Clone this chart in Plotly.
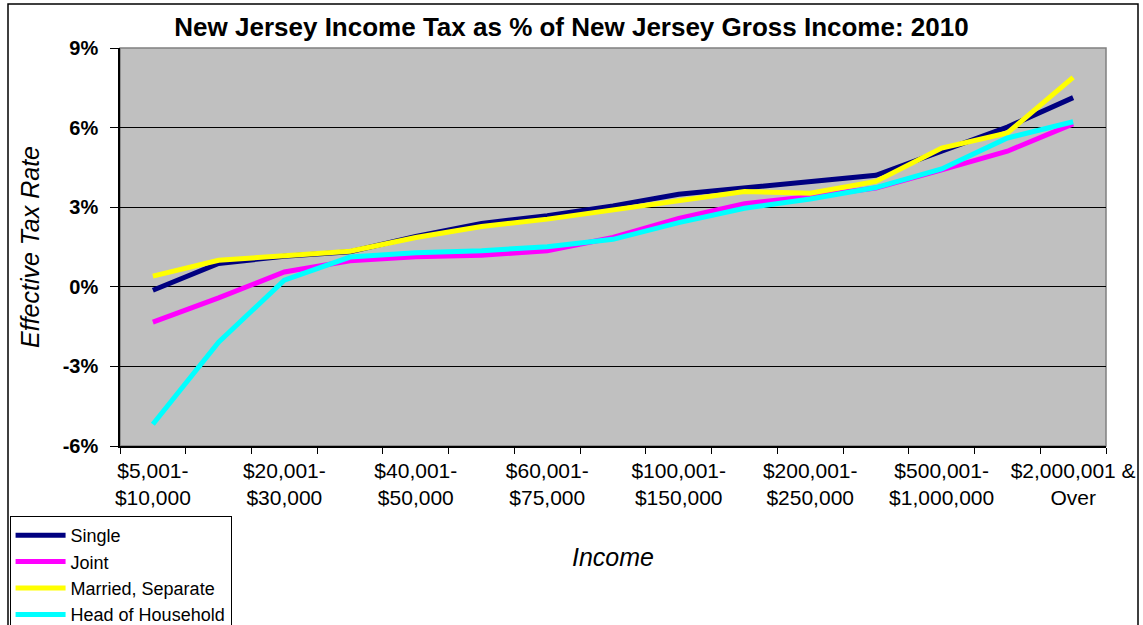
import plotly.graph_objects as go

categories = ["$5,001-$10,000", "$10,001-$20,000", "$20,001-$30,000", "$30,001-$40,000",
              "$40,001-$50,000", "$50,001-$60,000", "$60,001-$75,000", "$75,001-$100,000",
              "$100,001-$150,000", "$150,001-$200,000", "$200,001-$250,000", "$250,001-$500,000",
              "$500,001-$1,000,000", "$1,000,001-$2,000,000", "$2,000,001 & Over"]
tick_labels = ["$5,001-<br>$10,000", "", "$20,001-<br>$30,000", "",
               "$40,001-<br>$50,000", "", "$60,001-<br>$75,000", "",
               "$100,001-<br>$150,000", "", "$200,001-<br>$250,000", "",
               "$500,001-<br>$1,000,000", "", "$2,000,001 &<br>Over"]

single = [-0.13, 0.88, 1.15, 1.32, 1.90, 2.39, 2.68, 3.05, 3.49, 3.72, 3.93, 4.20, 5.11, 6.02, 7.13]
joint = [-1.33, -0.42, 0.56, 0.98, 1.13, 1.19, 1.36, 1.86, 2.58, 3.13, 3.40, 3.72, 4.41, 5.11, 6.14]
married_sep = [0.40, 1.00, 1.17, 1.34, 1.86, 2.27, 2.55, 2.90, 3.28, 3.59, 3.53, 3.97, 5.23, 5.80, 7.89]
head_household = [-5.18, -2.09, 0.25, 1.12, 1.28, 1.36, 1.51, 1.79, 2.42, 2.96, 3.31, 3.74, 4.44, 5.61, 6.22]

series = [("Single", single, "#000080"),
          ("Joint", joint, "#FF00FF"),
          ("Married, Separate", married_sep, "#FFFF00"),
          ("Head of Household", head_household, "#00FFFF")]

FONT = "Liberation Sans, Arial, sans-serif"

fig = go.Figure()
for name, vals, color in series:
    fig.add_trace(go.Scatter(x=categories, y=vals, name=name, mode="lines",
                             line=dict(color=color, width=5)))

fig.update_layout(
    width=1143, height=625,
    margin=dict(l=120, r=37, t=48, b=179, autoexpand=False),
    paper_bgcolor="white",
    plot_bgcolor="#C0C0C0",
    font=dict(family=FONT, color="black"),
    title=dict(text="<b>New Jersey Income Tax as % of New Jersey Gross Income: 2010</b>",
               x=0.5, xanchor="center", y=1 - 27 / 625, yanchor="middle",
               font=dict(size=26, family=FONT)),
    showlegend=True,
    legend=dict(x=-0.112, xanchor="left", y=(446 - 516) / 398, yanchor="top",
                bgcolor="white", bordercolor="black", borderwidth=1,
                itemwidth=50,
                font=dict(size=18, family=FONT), tracegroupgap=0),
    xaxis=dict(type="category", categoryorder="array", categoryarray=categories,
               range=[-0.5, len(categories) - 0.5], automargin=False,
               tickmode="array", tickvals=categories, ticktext=tick_labels,
               tickson="boundaries", ticks="outside", ticklen=6, tickcolor="black",
               showline=True, linecolor="black", linewidth=1.5,
               showgrid=False, zeroline=False,
               tickfont=dict(size=21, family=FONT), tickangle=0,
               ticklabelstandoff=5,
               title=dict(text="<i>Income</i>", font=dict(size=25, family=FONT), standoff=40)),
    yaxis=dict(range=[-6, 9], automargin=False,
               tickmode="array", tickvals=[-6, -3, 0, 3, 6, 9],
               ticktext=["-6%", "-3%", "0%", "3%", "6%", "9%"],
               ticks="outside", ticklen=8, tickcolor="black",
               showline=True, linecolor="black", linewidth=1.5,
               showgrid=True, gridcolor="black", gridwidth=1, zeroline=False,
               tickfont=dict(size=20, family=FONT, weight="bold"),
               ticklabelstandoff=8,
               title=dict(text="<i>Effective Tax Rate</i>", font=dict(size=25, family=FONT), standoff=16)),
    shapes=[
        dict(type="rect", xref="paper", yref="paper", x0=0, x1=1, y0=0, y1=1,
             line=dict(color="#808080", width=1.5), layer="below"),
        dict(type="rect", xref="paper", yref="paper",
             x0=(8 - 120) / 986, x1=(1138 - 120) / 986,
             y0=-1.0, y1=(446 - 4) / 398,
             line=dict(color="black", width=1.5), layer="below"),
    ],
)

fig.write_html("out.html")
